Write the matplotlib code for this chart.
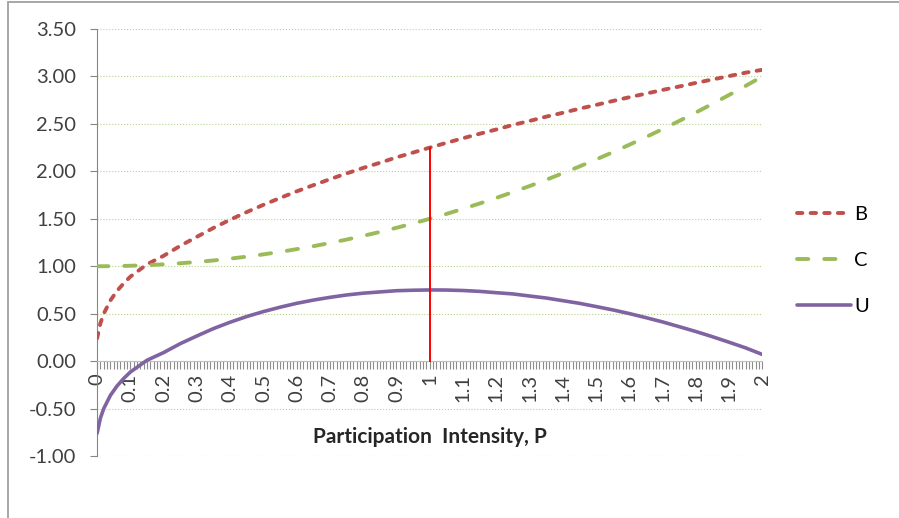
import matplotlib
matplotlib.use("Agg")
import matplotlib.pyplot as plt
from matplotlib.patches import Rectangle
from matplotlib.ticker import MultipleLocator, FormatStrFormatter

# participation intensity and the three curves
P = [0.0, 0.01, 0.02, 0.04, 0.06, 0.08, 0.1, 0.15, 0.2, 0.25, 0.3, 0.35, 0.4, 0.45,
     0.5, 0.55, 0.6, 0.65, 0.7, 0.75, 0.8, 0.85, 0.9, 0.95, 1.0, 1.05, 1.1, 1.15,
     1.2, 1.25, 1.3, 1.35, 1.4, 1.45, 1.5, 1.55, 1.6, 1.65, 1.7, 1.75, 1.8, 1.85,
     1.9, 1.95, 2.0]
B = [0.24, 0.40, 0.50, 0.64, 0.74, 0.82, 0.89, 1.02, 1.11, 1.215, 1.310, 1.404, 1.490, 1.571,
     1.647, 1.719, 1.789, 1.854, 1.917, 1.978, 2.036, 2.090, 2.147, 2.198, 2.250, 2.300,
     2.349, 2.396, 2.441, 2.489, 2.531, 2.576, 2.617, 2.660, 2.700, 2.741, 2.781, 2.819,
     2.858, 2.894, 2.932, 2.968, 3.004, 3.040, 3.070]
C = [1.000, 1.000, 1.000, 1.001, 1.002, 1.003, 1.005, 1.011, 1.020, 1.031, 1.045, 1.061,
     1.080, 1.101, 1.125, 1.151, 1.180, 1.211, 1.245, 1.281, 1.320, 1.361, 1.405, 1.451,
     1.500, 1.551, 1.605, 1.661, 1.720, 1.781, 1.845, 1.911, 1.980, 2.051, 2.125, 2.201,
     2.280, 2.361, 2.445, 2.531, 2.620, 2.711, 2.805, 2.901, 3.000]
U = [-0.76, -0.60, -0.50, -0.361, -0.262, -0.183, -0.115, 0.009, 0.090, 0.184, 0.265, 0.343,
     0.410, 0.470, 0.522, 0.568, 0.609, 0.643, 0.672, 0.697, 0.716, 0.729, 0.742, 0.747,
     0.750, 0.749, 0.744, 0.735, 0.721, 0.708, 0.686, 0.665, 0.637, 0.609, 0.575, 0.540,
     0.501, 0.458, 0.413, 0.363, 0.312, 0.257, 0.199, 0.139, 0.070]
P_STAR = 1.0  # marked optimum

plt.rcParams["font.family"] = ["Lato", "DejaVu Sans"]
plt.rcParams["axes.unicode_minus"] = False

fig = plt.figure(figsize=(8.99, 5.18), dpi=100)
ax = fig.add_axes([0.108, 0.1197, 0.74, 0.8243])

red, green, purple = "#C0504D", "#9BBB59", "#8064A2"
ax.plot(P, B, color=red, lw=2.8, dashes=(1.4, 2.1), dash_capstyle="round", label="B", zorder=3)
ax.plot(P, C, color=green, lw=2.8, dashes=(2.9, 4.1), dash_capstyle="round", label="C", zorder=3)
ax.plot(P, U, color=purple, lw=2.6, solid_capstyle="round", label="U", zorder=3)

b_star = B[P.index(P_STAR)]
ax.plot([P_STAR, P_STAR], [0, b_star], color="#FF0000", lw=1.4, zorder=4)

ax.set_xlim(0, 2)
ax.set_ylim(-1, 3.5)
ax.yaxis.set_major_locator(MultipleLocator(0.5))
ax.yaxis.set_major_formatter(FormatStrFormatter("%.2f"))
ax.grid(axis="y", color="#B9D38A", lw=0.8, ls=":")
ax.set_axisbelow(True)

ax.spines["top"].set_visible(False)
ax.spines["right"].set_visible(False)
ax.spines["left"].set_color("#868686")
ax.spines["bottom"].set_position(("data", 0))
ax.spines["bottom"].set_color("#BFBFBF")

xt = [i / 10 for i in range(21)]
ax.set_xticks(xt)
ax.set_xticklabels([f"{v:g}" for v in xt], rotation=90, va="top", ha="center")
ax.xaxis.set_minor_locator(MultipleLocator(0.01))
ax.tick_params(axis="x", which="both", direction="out", length=6, width=0.8,
               color="#8C8C8C", labelsize=14.5, pad=3)
ax.tick_params(axis="y", direction="out", length=5, color="#868686", labelsize=14.5, pad=10,
               labelcolor="#404040")
ax.tick_params(axis="x", labelcolor="#404040")

ax.set_xlabel("Participation  Intensity, P", fontsize=15, fontweight="bold", color="#262626")
ax.xaxis.set_label_coords(0.5, 0.068)

ax.legend(loc="center left", bbox_to_anchor=(0.886, 0.497), bbox_transform=fig.transFigure,
          frameon=False, fontsize=14.5, handlelength=2.7, handletextpad=0.15,
          labelspacing=1.45, borderpad=0, borderaxespad=0)

fig.patches.append(Rectangle((8 / 899, -0.1), 1.2, 1.1 - 2 / 518, transform=fig.transFigure,
                             fill=False, edgecolor="#A0A0A0", lw=1.3))

fig.savefig("out.png", dpi=100)
